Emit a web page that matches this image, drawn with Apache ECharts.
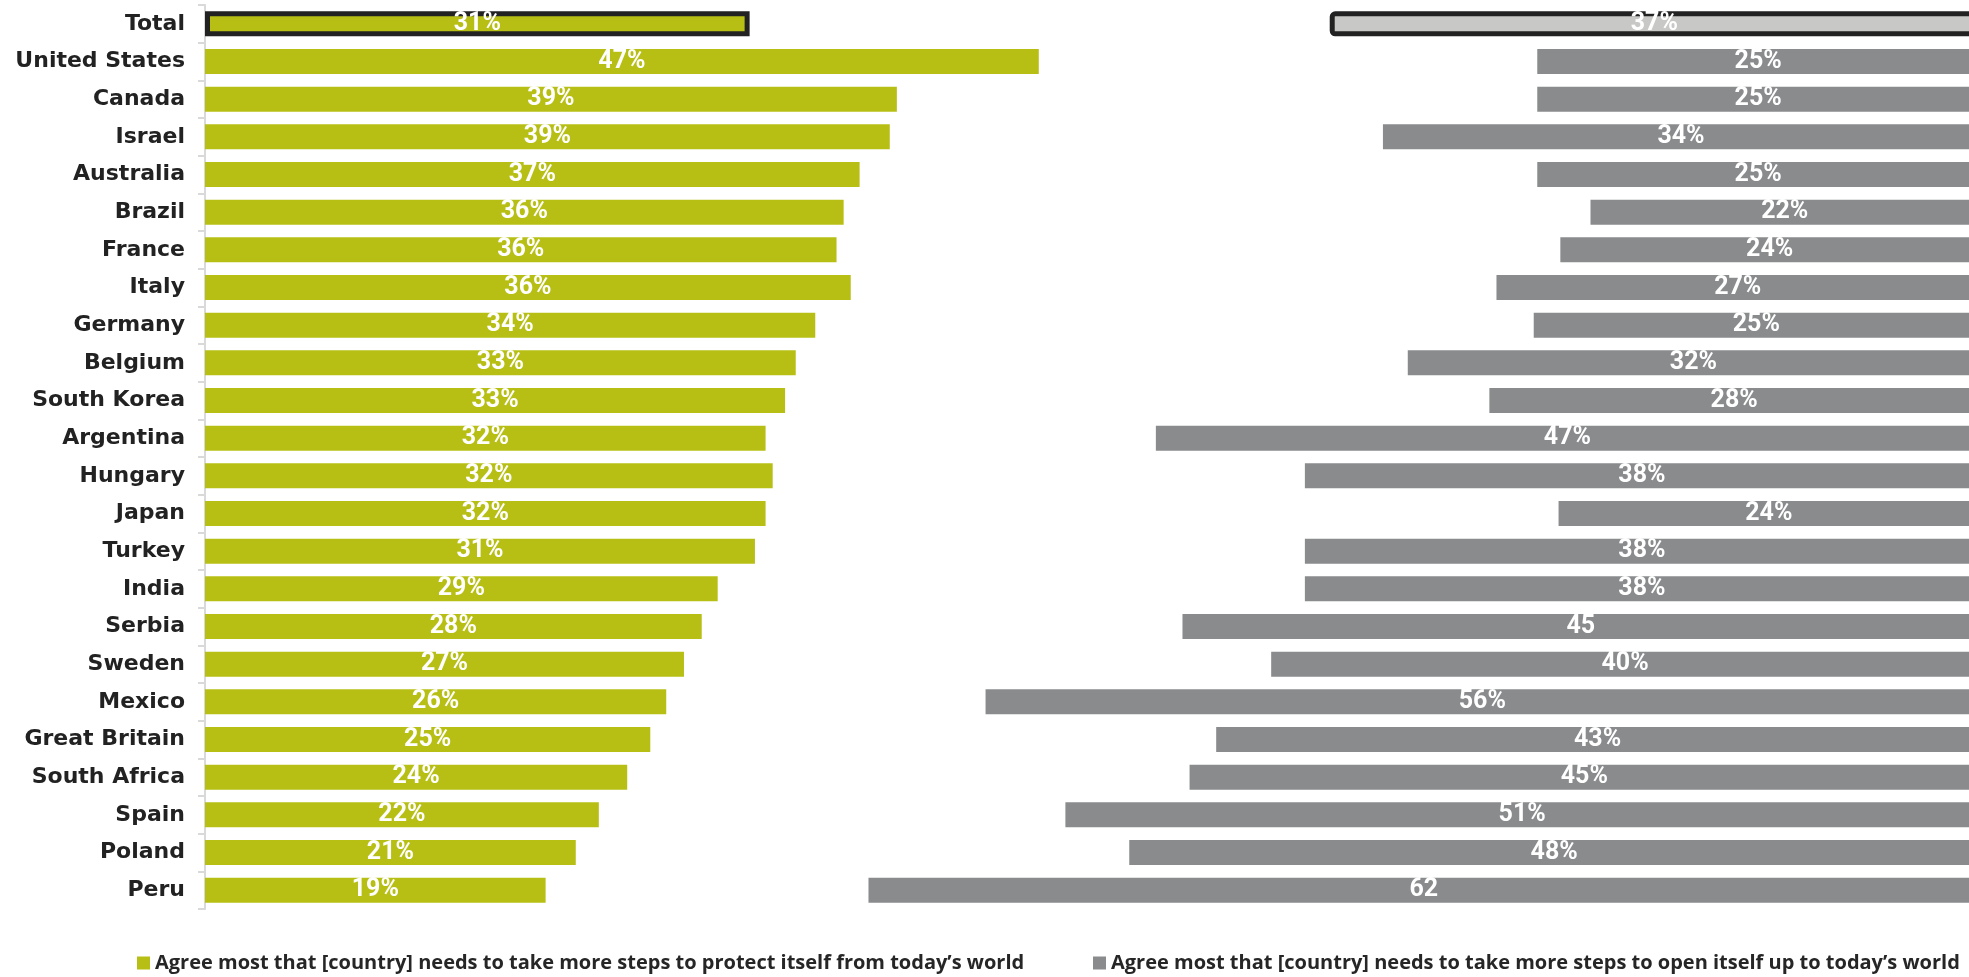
<!DOCTYPE html>
<html>
<head>
<meta charset="utf-8">
<script src="https://cdn.jsdelivr.net/npm/echarts@6/dist/echarts.min.js"></script>
<style>
html,body{margin:0;padding:0;background:#fff;}
#chart{width:1969px;height:977px;}
</style>
</head>
<body>
<div id="chart"></div>
<script>
const categories = ['Total','United States','Canada','Israel','Australia','Brazil','France','Italy','Germany','Belgium','South Korea','Argentina','Hungary','Japan','Turkey','India','Serbia','Sweden','Mexico','Great Britain','South Africa','Spain','Poland','Peru'];
const protectValues = [30.7,47.0,39.0,38.6,36.9,36.0,35.6,36.4,34.4,33.3,32.7,31.6,32.0,31.6,31.0,28.9,28.0,27.0,26.0,25.1,23.8,22.2,20.9,19.2];
const protectLabels = ['31%','47%','39%','39%','37%','36%','36%','36%','34%','33%','33%','32%','32%','32%','31%','29%','28%','27%','26%','25%','24%','22%','21%','19%'];
const openValues = [36.6,24.9,24.9,33.6,24.9,21.9,23.6,27.2,25.1,32.2,27.6,46.4,38.0,23.7,38.0,38.0,44.9,39.9,56.0,43.0,44.5,51.5,47.9,62.6];
const openLabels = ['37%','25%','25%','34%','25%','22%','24%','27%','25%','32%','28%','47%','38%','24%','38%','38%','45','40%','56%','43%','45%','51%','48%','62'];
const seriesNames = ['Agree most that [country] needs to take more steps to protect itself from today\u2019s world','Agree most that [country] needs to take more steps to open itself up to today\u2019s world'];

const GREEN = '#b7bf14', GRAY = '#898b8d', TOTAL_GRAY = '#c8c8c6', DARK = '#222222';
const valueFont = "Roboto,'DejaVu Sans Condensed',sans-serif";

const greenData = protectValues.map((v,i) => i === 0
  ? {value:v, itemStyle:{color:GREEN, borderColor:DARK, borderWidth:5}}
  : {value:v});
const grayData = openValues.map((v,i) => i === 0
  ? {value:v, itemStyle:{color:TOTAL_GRAY, borderColor:DARK, borderWidth:5, borderRadius:3}}
  : {value:v});

const chart = echarts.init(document.getElementById('chart'), null, {renderer:'canvas'});
chart.setOption({
  animation:false,
  backgroundColor:'#fff',
  grid:{left:205, width:1774, top:5, bottom:68, containLabel:false, outerBoundsMode:'none'},
  xAxis:[
    {type:'value', min:0, max:100, show:false},
    {type:'value', min:0, max:100, show:false, inverse:true}
  ],
  yAxis:{
    type:'category', data:categories, inverse:true,
    axisLine:{show:true, lineStyle:{color:'#d9d9d9', width:2}},
    axisTick:{show:true, length:7, lineStyle:{color:'#d9d9d9', width:2}},
    axisLabel:{margin:20, color:DARK, fontFamily:"'DejaVu Sans',sans-serif", fontWeight:'bold', fontSize:22}
  },
  legend:[
    {left:137, top:953, padding:0, itemWidth:13, itemHeight:13, icon:'rect', data:[seriesNames[0]],
     textStyle:{color:'#262626', fontFamily:"'Open Sans'", fontWeight:'bold', fontSize:20}},
    {left:1093, top:953, padding:0, itemWidth:13, itemHeight:13, icon:'rect', data:[seriesNames[1]],
     textStyle:{color:'#262626', fontFamily:"'Open Sans'", fontWeight:'bold', fontSize:20}}
  ],
  series:[
    {name:seriesNames[0], type:'bar', xAxisIndex:0, data:greenData, barWidth:25, barGap:'-100%',
     itemStyle:{color:GREEN},
     label:{show:true, position:'inside', color:'#fff', fontFamily:valueFont, fontWeight:'bold', fontSize:25,
            formatter:p => protectLabels[p.dataIndex]}},
    {name:seriesNames[1], type:'bar', xAxisIndex:1, data:grayData, barWidth:25, barGap:'-100%',
     itemStyle:{color:GRAY},
     label:{show:true, position:'inside', color:'#fff', fontFamily:valueFont, fontWeight:'bold', fontSize:25,
            formatter:p => openLabels[p.dataIndex]}}
  ]
});
</script>
</body>
</html>
